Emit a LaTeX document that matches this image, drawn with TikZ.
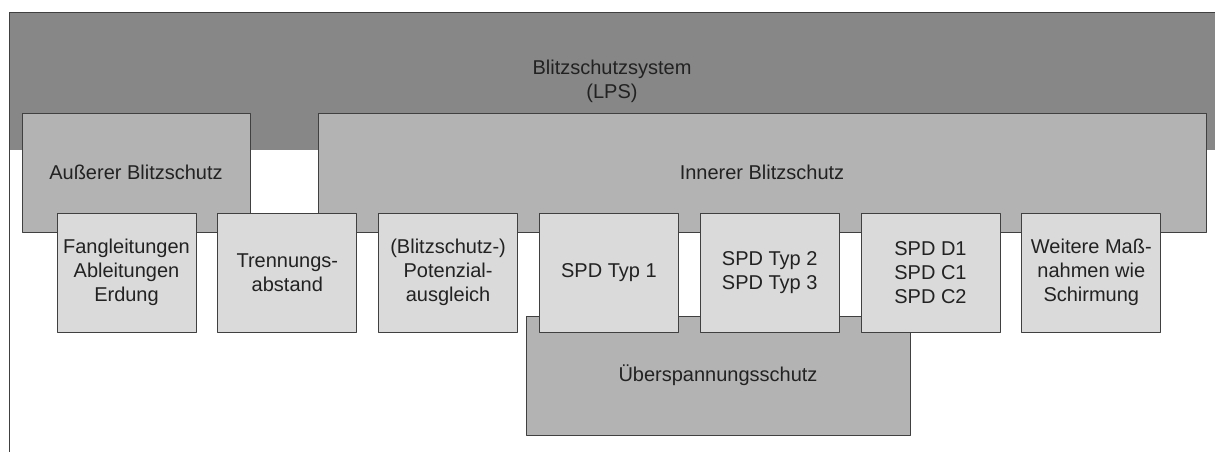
\documentclass[tikz,border=0pt]{standalone}
\usepackage{fontspec}
\setmainfont{Liberation Sans}
\usepackage{tikz}
\usetikzlibrary{positioning}

\definecolor{dunkelgrau}{HTML}{878787}
\definecolor{mittelgrau}{HTML}{B3B3B3}
\definecolor{hellgrau}{HTML}{DADADA}
\definecolor{rahmen}{HTML}{404040}
\definecolor{schrift}{HTML}{222222}

\begin{document}
\begin{tikzpicture}[x=1pt,y=-1pt,line join=bevel,
    kasten/.style={draw=rahmen,line width=0.8pt,inner sep=0pt,align=center,
      text=schrift,font=\fontsize{20}{24}\selectfont},
    gruppe/.style={kasten,fill=mittelgrau,minimum height=119pt},
    teil/.style={kasten,fill=hellgrau,minimum width=139pt,minimum height=119pt}]
  \useasboundingbox (0,0) rectangle (1215,452);
%%
  % Node: LPS
  \node [kasten,draw=none,fill=dunkelgrau,minimum width=1206pt,minimum height=138pt]
    (lps) at (612,81) {Blitzschutzsystem\\(LPS)};
  \draw [rahmen,line width=0.8pt] (9,452) |- (1215,12);
  % Node: Ueberspannungsschutz
  \node [gruppe,minimum width=384pt] (ueber) at (718,375.5) {Überspannungsschutz};
  % Node: Aeusserer / Innerer
  \node [gruppe,minimum width=228pt] (aussen) at (136,172.5) {Außerer Blitzschutz};
  \node [gruppe,minimum width=888pt] (innen) at (762,172.5) {Innerer Blitzschutz};
  % Nodes: Teile
  \node [teil] (fang) at (126.5,272.5) {Fangleitungen\\Ableitungen\\Erdung};
  \node [teil,right=21pt of fang] (trenn) {Trennungs-\\abstand};
  \node [teil,right=21pt of trenn] (potaus) {(Blitzschutz-)\\Potenzial-\\ausgleich};
  \node [teil,right=21pt of potaus] (spdeins) {SPD Typ 1};
  \node [teil,right=21pt of spdeins] (spdzwei) {SPD Typ 2\\SPD Typ 3};
  \node [teil,right=21pt of spdzwei] (spdd) {SPD D1\\SPD C1\\SPD C2};
  \node [teil,right=21pt of spdd] (weitere) {Weitere Maß-\\nahmen wie\\Schirmung};
%
\end{tikzpicture}
\end{document}
